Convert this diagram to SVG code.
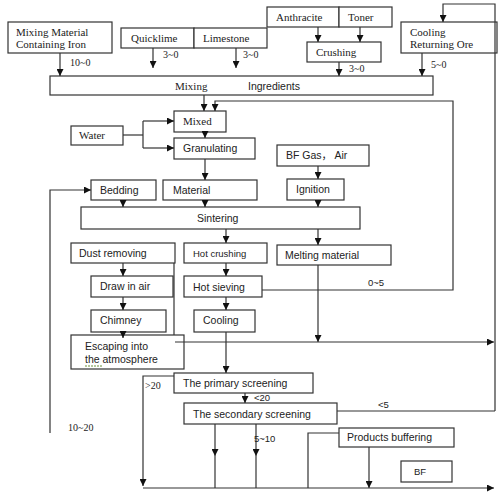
<svg xmlns="http://www.w3.org/2000/svg" width="500" height="500" viewBox="0 0 500 500">
<defs>
<marker id="ah" viewBox="0 0 10 10" refX="10" refY="5" markerWidth="7" markerHeight="7" markerUnits="userSpaceOnUse" orient="auto"><path d="M0,0 L10,5 L0,10 z" fill="#111"/></marker>
<style>
.b{fill:#fff;stroke:#333;stroke-width:1.2}
.l{fill:none;stroke:#333;stroke-width:1.2}
.a{fill:none;stroke:#333;stroke-width:1.2;marker-end:url(#ah)}
.s{font-family:"Liberation Serif","Times New Roman",serif;font-size:11px;fill:#222}
.t{font-family:"Liberation Sans",Arial,sans-serif;font-size:10.5px;fill:#222}
.n{font-family:"Liberation Serif",serif;font-size:10px;fill:#222}
.m{font-family:"Liberation Sans",Arial,sans-serif;font-size:9.5px;fill:#222}
</style>
</defs>
<rect width="500" height="500" fill="#fff"/>
<g id="iron"><rect class="b" x="8" y="22" width="104" height="31"/><text class="s" x="16" y="36">Mixing Material</text><text class="s" x="16" y="48">Containing Iron</text></g>
<g id="quicklime"><rect class="b" x="121" y="28" width="73" height="20"/><text class="s" x="131" y="42">Quicklime</text></g>
<g id="limestone"><rect class="b" x="194" y="28" width="73" height="20"/><text class="s" x="203" y="42">Limestone</text></g>
<g id="anthracite"><rect class="b" x="267" y="7" width="72" height="20"/><text class="s" x="276" y="21">Anthracite</text></g>
<g id="toner"><rect class="b" x="339" y="7" width="53" height="20"/><text class="s" x="348" y="21">Toner</text></g>
<g id="crushing"><rect class="b" x="307" y="42" width="74" height="20"/><text class="s" x="316" y="56">Crushing</text></g>
<g id="cooling-ore"><rect class="b" x="401" y="22" width="96" height="31"/><text class="s" x="410" y="36">Cooling</text><text class="s" x="410" y="48">Returning Ore</text></g>
<g id="mixing"><rect class="b" x="50" y="76" width="383" height="19"/><text class="s" x="175" y="90">Mixing</text><text class="t" x="248" y="90">Ingredients</text></g>
<g id="mixed"><rect class="b" x="174" y="111" width="52" height="21"/><text class="s" x="183" y="125">Mixed</text></g>
<g id="water"><rect class="b" x="71" y="126" width="52" height="19"/><text class="s" x="79" y="139" font-size="10">Water</text></g>
<g id="granulating"><rect class="b" x="174" y="138" width="81" height="21"/><text class="t" x="183" y="152">Granulating</text></g>
<g id="bfgas"><rect class="b" x="277" y="145" width="92" height="21"/><text class="t" x="286" y="159">BF Gas<tspan font-family="'Noto Sans CJK SC',sans-serif">，</tspan> Air</text></g>
<g id="bedding"><rect class="b" x="91" y="180" width="65" height="20"/><text class="t" x="100" y="194">Bedding</text></g>
<g id="material"><rect class="b" x="163" y="180" width="94" height="20"/><text class="t" x="173" y="194">Material</text></g>
<g id="ignition"><rect class="b" x="287" y="179" width="57" height="21"/><text class="t" x="296" y="193">Ignition</text></g>
<g id="sintering"><rect class="b" x="81" y="207" width="279" height="22"/><text class="t" x="197" y="222">Sintering</text></g>
<g id="dust"><rect class="b" x="71" y="243" width="104" height="20"/><text class="t" x="79" y="257">Dust removing</text></g>
<g id="hotcrushing"><rect class="b" x="184" y="243" width="83" height="20"/><text class="m" x="193" y="257">Hot crushing</text></g>
<g id="melting"><rect class="b" x="277" y="245" width="114" height="20"/><text class="t" x="285" y="259">Melting material</text></g>
<g id="drawair"><rect class="b" x="91" y="276" width="82" height="21"/><text class="t" x="100" y="290">Draw in air</text></g>
<g id="hotsieving"><rect class="b" x="184" y="276" width="78" height="21"/><text class="t" x="193" y="291">Hot sieving</text></g>
<g id="chimney"><rect class="b" x="91" y="310" width="75" height="22"/><text class="t" x="100" y="324">Chimney</text></g>
<g id="cooling"><rect class="b" x="194" y="310" width="61" height="22"/><text class="t" x="203" y="324">Cooling</text></g>
<g id="escaping"><rect class="b" x="71" y="335" width="113" height="34"/><text class="t" x="85" y="350">Escaping into</text><text class="t" x="85" y="363">the atmosphere</text><path d="M85,366 H102" stroke="#6a8f3a" stroke-width="1" stroke-dasharray="2,1"/></g>
<g id="primary"><rect class="b" x="174" y="373" width="139" height="20"/><text class="t" x="183" y="387">The primary screening</text></g>
<g id="secondary"><rect class="b" x="184" y="403" width="153" height="21"/><text class="t" x="193" y="418">The secondary screening</text></g>
<g id="products"><rect class="b" x="339" y="428" width="115" height="19"/><text class="t" x="347" y="441">Products buffering</text></g>
<g id="bf"><rect class="b" x="401" y="461" width="51" height="21"/><text class="m" x="414" y="475">BF</text></g>
<g id="connectors">
<path class="a" d="M60,53 V76"/>
<path class="a" d="M153,48 V68"/>
<path class="a" d="M236,48 V68"/>
<path class="a" d="M318,27 V42"/>
<path class="a" d="M360,27 V42"/>
<path class="a" d="M339,62 V76"/>
<path class="a" d="M422,53 V76"/>
<path class="a" d="M495,411 V4 H443 V22"/>
<path class="a" d="M204,95 V111"/>
<path class="a" d="M262,290 H453 V101 H215 V111"/>
<path class="l" d="M123,135 H143"/>
<path class="a" d="M143,121 H174"/>
<path class="a" d="M143,148 H174"/>
<path class="l" d="M143,121 V148"/>
<path class="a" d="M205,132 V138"/>
<path class="a" d="M205,159 V180"/>
<path class="a" d="M318,166 V179"/>
<path class="a" d="M123,200 V207"/>
<path class="a" d="M205,200 V207"/>
<path class="a" d="M318,200 V207"/>
<path class="a" d="M50,433 V190 H91"/>
<path class="a" d="M226,229 V243"/>
<path class="a" d="M318,229 V245"/>
<path class="a" d="M123,263 V276"/>
<path class="a" d="M123,297 V310"/>
<path class="a" d="M123,332 V338"/>
<path class="l" d="M174,263 V335"/>
<path class="a" d="M226,263 V276"/>
<path class="a" d="M226,297 V310"/>
<path class="a" d="M226,332 V373"/>
<path class="a" d="M318,265 V342"/>
<path class="a" d="M175,342 H494"/>
<path class="a" d="M174,376 H143 V486"/>
<path class="a" d="M245,393 V403"/>
<path class="l" d="M337,411 H495"/>
<path class="a" d="M215,424 V456"/>
<path class="l" d="M215,456 V488"/>
<path class="a" d="M256,424 V456"/>
<path class="l" d="M256,456 V488"/>
<path class="l" d="M339,433 H308 V488"/>
<path class="a" d="M369,447 V488"/>
<path class="a" d="M143,488 H494"/>
</g>
<g id="labels">
<text class="n" x="70" y="66">10~0</text>
<text class="n" x="163" y="58">3~0</text>
<text class="n" x="243" y="58">3~0</text>
<text class="n" x="349" y="72">3~0</text>
<text class="n" x="431" y="68">5~0</text>
<text class="m" x="368" y="286">0~5</text>
<text class="n" x="145" y="389">&gt;20</text>
<text class="m" x="254" y="401">&lt;20</text>
<text class="m" x="378" y="408">&lt;5</text>
<text class="m" x="254" y="442">5~10</text>
<text class="n" x="68" y="431">10~20</text>
</g>
</svg>
